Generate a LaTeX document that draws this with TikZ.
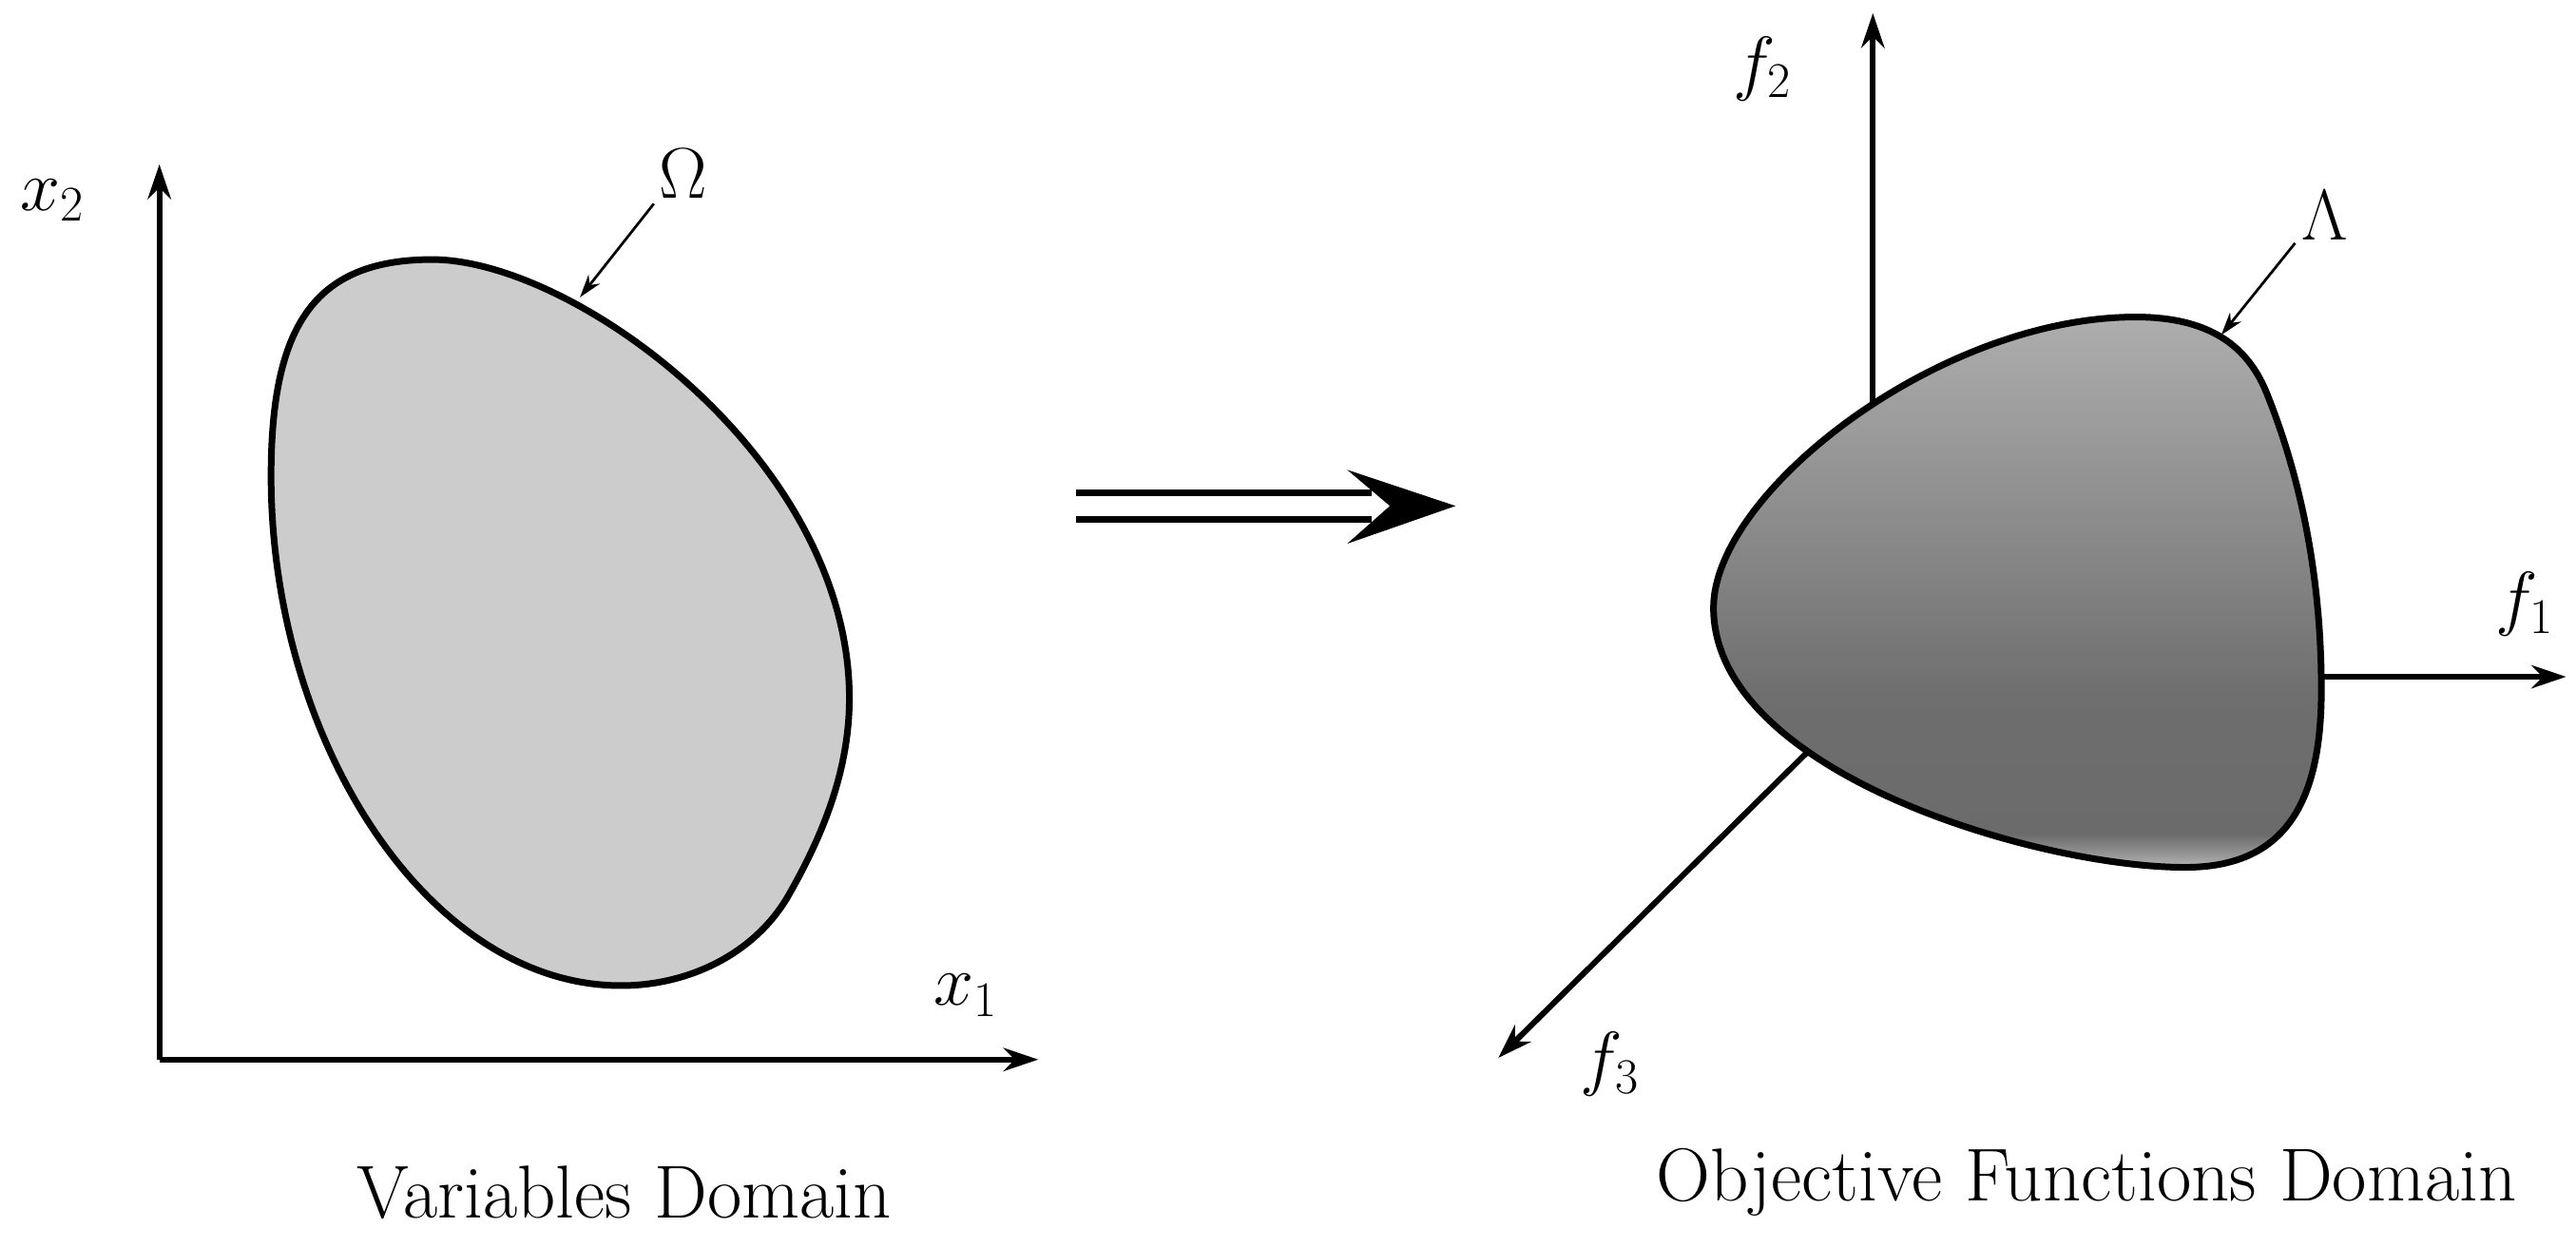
\documentclass[tikz,border=0pt]{standalone}
\usetikzlibrary{arrows.meta}
\pgfdeclareverticalshading{lam}{100bp}{color(0bp)=(black!30); color(25bp)=(black!30); color(28bp)=(black!58); color(40bp)=(black!57); color(75bp)=(black!32); color(100bp)=(black!32)}
\begin{document}
\begin{tikzpicture}[x=0.02cm,y=-0.02cm,
  axis/.style={line width=2pt,-{Stealth[length=12pt,width=8pt]}},
  pointer/.style={line width=0.9pt,-{Stealth[length=8pt,width=5pt]}},
  lab/.style={font=\fontsize{26}{30}\selectfont},
  captext/.style={font=\fontsize{26}{30}\selectfont}]
\useasboundingbox (0,0) rectangle (1568,759);
\def\omegapath{(165,290) .. controls (165,200) and (190,158) .. (263,158) .. controls (350,158) and (517,280) .. (517,425) .. controls (517,470) and (500,510) .. (480,545) .. controls (460,580) and (420,600) .. (378,600) .. controls (260,600) and (165,450) .. (165,290)}
% left
\fill[black!20] \omegapath;
\coordinate (o) at (97,645);
\coordinate (x2e) at (97,100);
\coordinate (x1e) at (632,645);
\draw[axis] (o) -- (x2e);
\draw[axis] (o) -- (x1e);
\draw[line width=2.3pt] \omegapath;
\node[lab] (x2) at (32,122) {$x_2$};
\node[lab] (x1) at (588,606) {$x_1$};
\node[lab] (om) at (416,106) {$\Omega$};
\coordinate (omt) at (353,181);
\draw[pointer] (398,124) -- (omt);
% middle arrow
\coordinate (a1) at (655,300);
\coordinate (a2) at (655,316);
\draw[line width=2.3pt] (a1) -- (835,300);
\draw[line width=2.3pt] (a2) -- (835,316);
\fill (820,286) -- (886,308) -- (820,331) -- (846,308) -- cycle;
% right
\coordinate (f2s) at (1140,245);
\coordinate (f2e) at (1140,8);
\coordinate (f1s) at (1413,412);
\coordinate (f1e) at (1562,412);
\coordinate (f3s) at (1100,458);
\coordinate (f3e) at (912,644);
\draw[axis] (f2s) -- (f2e);
\draw[axis] (f1s) -- (f1e);
\draw[axis] (f3s) -- (f3e);
\draw[line width=2.3pt, shading=lam] (1043,370) .. controls (1043,300) and (1180,193) .. (1300,193) .. controls (1350,193) and (1370,215) .. (1380,240) .. controls (1400,290) and (1413,350) .. (1413,420) .. controls (1413,490) and (1390,528) .. (1330,528) .. controls (1240,528) and (1043,470) .. (1043,370);
\node[lab] (f2) at (1073,42) {$f_2$};
\node[lab] (f1) at (1537,368) {$f_1$};
\node[lab] (f3) at (980,648) {$f_3$};
\node[lab] (la) at (1415,131) {$\Lambda$};
\coordinate (lat) at (1352,204);
\draw[pointer] (1397,148) -- (lat);
\node[captext] (c1) at (380,726) {Variables Domain};
\node[captext] (c2) at (1270,720) {Objective Functions Domain};
\end{tikzpicture}
\end{document}
